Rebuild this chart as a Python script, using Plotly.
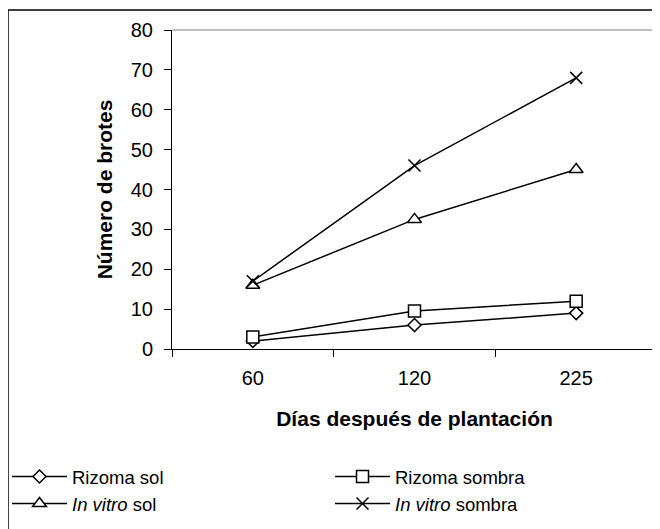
import plotly.graph_objects as go

dias = ["60", "120", "225"]
rizoma_sol = [2, 6, 9]
rizoma_sombra = [3, 9.5, 12]
invitro_sol = [16, 32.5, 45]
invitro_sombra = [17, 46, 68]

y_ticks = [0, 10, 20, 30, 40, 50, 60, 70, 80]

FONT = "Liberation Sans, Arial, sans-serif"

series = [
    ("Rizoma sol", rizoma_sol, "diamond", 10),
    ("Rizoma sombra", rizoma_sombra, "square", 12),
    ("<i>In vitro</i> sol", invitro_sol, "triangle-up", 12),
    ("<i>In vitro</i> sombra", invitro_sombra, "x-thin", 12),
]

fig = go.Figure()
for name, vals, sym, size in series:
    fig.add_trace(go.Scatter(
        x=dias, y=vals, name=name, mode="lines+markers",
        line=dict(color="black", width=1.5),
        marker=dict(symbol=sym, size=size, color="white",
                    line=dict(color="black", width=1.5)),
    ))

# page body has an 8px margin; work in figure coordinates
OFF = 8
W, H = 660 - OFF, 529 - OFF
L, R, T, B = 172 - OFF, 657 - OFF, 30 - OFF, 349 - OFF
pw, ph = R - L, B - T


def px(x):
    return (x - OFF - L) / pw


def py(y):
    return (B - (y - OFF)) / ph


fig.update_layout(
    width=W, height=H,
    margin=dict(l=L, r=W - R, t=T, b=H - B, autoexpand=False),
    paper_bgcolor="white", plot_bgcolor="white",
    font=dict(family=FONT, color="black"),
    showlegend=True,
    legend=dict(
        orientation="h", x=px(7), xanchor="left", y=py(458), yanchor="top",
        font=dict(size=18.5, family=FONT, color="black"),
        entrywidth=253, entrywidthmode="pixels",
        bgcolor="rgba(0,0,0,0)", itemwidth=55, tracegroupgap=0,
    ),
    xaxis=dict(
        type="category", categoryorder="array", categoryarray=dias,
        range=[-0.5, 2.5], tickson="boundaries",
        ticks="outside", ticklen=7, tickcolor="black", tickwidth=1,
        showline=True, linecolor="black", linewidth=1, showgrid=False,
        zeroline=False, ticklabelstandoff=11,
        tickfont=dict(size=20, family=FONT),
        title=dict(text="<b>Días después de plantación</b>",
                   font=dict(size=21, family=FONT), standoff=23),
    ),
    yaxis=dict(
        range=[0, 80], tickvals=y_ticks,
        ticks="outside", ticklen=7, tickcolor="black", tickwidth=1,
        showline=True, linecolor="black", linewidth=1, showgrid=False,
        zeroline=False, ticklabelstandoff=7,
        tickfont=dict(size=20, family=FONT),
        title=dict(text="<b>Número de brotes</b>",
                   font=dict(size=21, family=FONT), standoff=12),
    ),
    shapes=[
        dict(type="line", xref="paper", yref="paper", x0=0, x1=1, y0=1, y1=1,
             line=dict(color="#808080", width=1)),
        dict(type="line", xref="paper", yref="paper", x0=1, x1=1, y0=0, y1=1,
             line=dict(color="#808080", width=1)),
        dict(type="rect", xref="paper", yref="paper",
             x0=px(8), x1=px(668), y0=py(540), y1=py(10),
             line=dict(color="black", width=1.5), layer="below"),
    ],
)

fig.write_html("out.html")
